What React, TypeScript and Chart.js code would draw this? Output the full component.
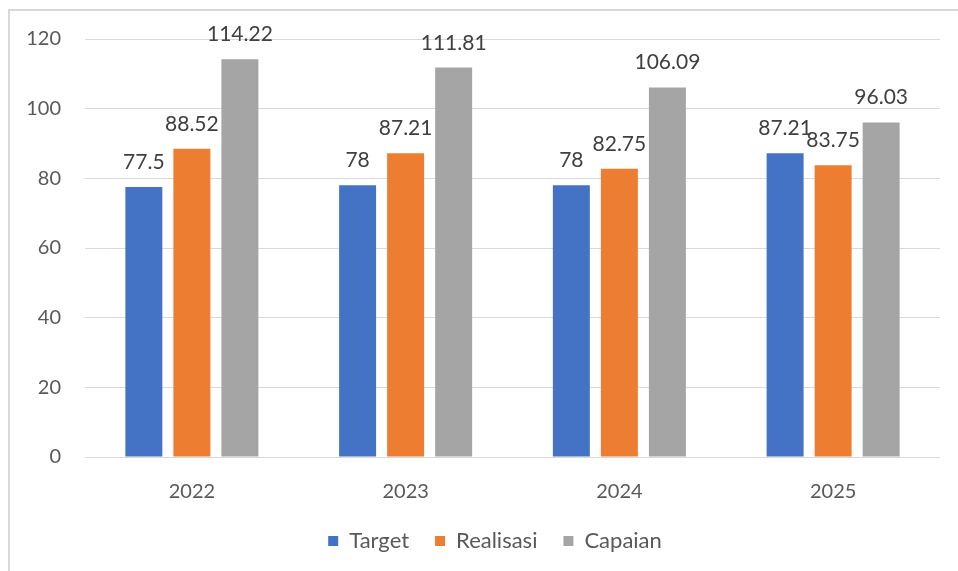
import React, { useEffect, useRef } from "react";
import { Chart, registerables } from "chart.js";

Chart.register(...registerables);

const categories = ["2022", "2023", "2024", "2025"];
const targetValues = [77.5, 78, 78, 87.21];
const realisasiValues = [88.52, 87.21, 82.75, 83.75];
const capaianValues = [114.22, 111.81, 106.09, 96.03];
const valueLabels = [
  ["77.5", "78", "78", "87.21"],
  ["88.52", "87.21", "82.75", "83.75"],
  ["114.22", "111.81", "106.09", "96.03"],
];
const seriesNames = ["Target", "Realisasi", "Capaian"];
const seriesColors = ["#4472C4", "#ED7D31", "#A5A5A5"];

const FONT = "Lato, 'Open Sans', sans-serif";

const dataLabelPlugin = {
  id: "dataLabels",
  afterDatasetsDraw(chart: any) {
    const ctx = chart.ctx;
    ctx.save();
    ctx.font = `21px ${FONT}`;
    ctx.fillStyle = "#404040";
    ctx.textAlign = "center";
    ctx.textBaseline = "alphabetic";
    chart.data.datasets.forEach((ds: any, di: number) => {
      const meta = chart.getDatasetMeta(di);
      meta.data.forEach((bar: any, i: number) => {
        ctx.fillText(valueLabels[di][i], bar.x, bar.y - 18);
      });
    });
    ctx.restore();
  },
};

const legendShiftPlugin = {
  id: "legendShift",
  afterLayout(chart: any) {
    if (chart.legend) {
      chart.legend.left += 25;
      chart.legend.right += 25;
    }
  },
};

export default function App() {
  const canvasRef = useRef<HTMLCanvasElement | null>(null);

  useEffect(() => {
    const datasets = [targetValues, realisasiValues, capaianValues].map((vals, i) => ({
      label: seriesNames[i],
      data: vals,
      backgroundColor: seriesColors[i],
      borderWidth: 0,
      categoryPercentage: 0.674,
      barPercentage: 0.77,
    }));
    const chart = new Chart(canvasRef.current as HTMLCanvasElement, {
      type: "bar",
      data: { labels: categories, datasets },
      options: {
        animation: false,
        responsive: false,
        maintainAspectRatio: false,
        layout: { padding: { left: 0, right: 18, top: 39, bottom: 9 } },
        scales: {
          x: {
            grid: { display: false, drawTicks: false },
            border: { display: false },
            ticks: { color: "#595959", font: { family: FONT, size: 20 }, padding: 23 },
            afterFit: (s: any) => {
              s.height = 47;
            },
          },
          y: {
            min: 0,
            max: 120,
            ticks: { stepSize: 20, color: "#595959", font: { family: FONT, size: 20 }, padding: 24 },
            grid: { color: "#D9D9D9", lineWidth: 1, drawTicks: false },
            border: { display: false },
            afterFit: (s: any) => {
              s.width = 85;
            },
          },
        },
        plugins: {
          legend: {
            position: "bottom",
            labels: {
              boxWidth: 10,
              boxHeight: 10,
              color: "#595959",
              font: { family: FONT, size: 22 },
              padding: 26,
            },
          },
          tooltip: { enabled: false },
        },
      },
      plugins: [dataLabelPlugin, legendShiftPlugin],
    });
    return () => chart.destroy();
  }, []);

  return (
    <div style={{ position: "fixed", left: 0, top: 0, width: 958, height: 571, background: "#fff" }}>
      <div
        style={{
          position: "absolute",
          left: 8,
          top: 9,
          width: 950,
          height: 562,
          borderTop: "2px solid #D9D9D9",
          borderLeft: "2px solid #D9D9D9",
          boxSizing: "border-box",
        }}
      />
      <canvas
        ref={canvasRef}
        width={958}
        height={571}
        style={{ position: "absolute", left: 0, top: 0, width: 958, height: 571 }}
      />
    </div>
  );
}
